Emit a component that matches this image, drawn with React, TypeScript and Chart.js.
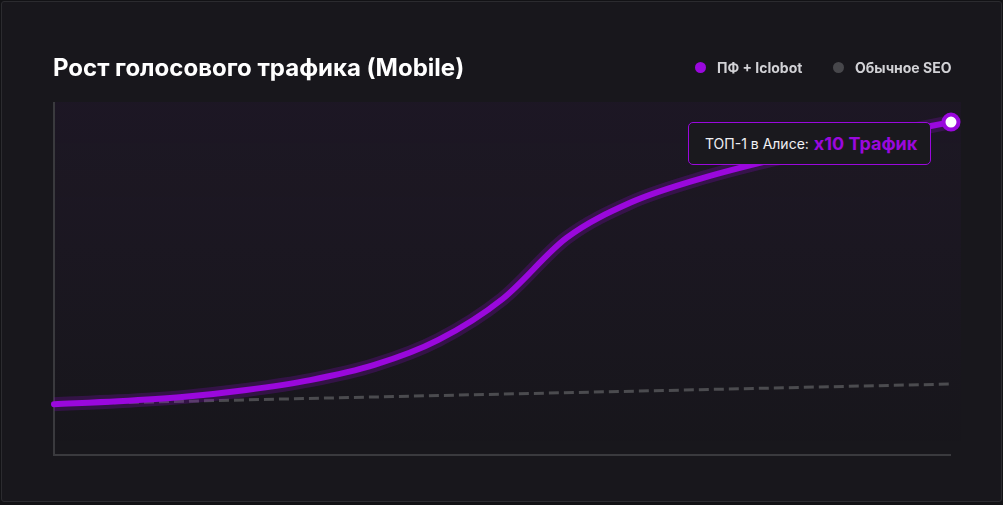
import React, { useEffect, useRef } from "react";
import { Chart, registerables } from "chart.js";

Chart.register(...registerables);

const steps = [1, 2, 3, 4, 5, 6, 7, 8, 9, 10, 11, 12, 13, 14, 15];
const iclobotValues = [14.4, 15.2, 16.4, 18.4, 21.2, 25.5, 32.6, 44.2, 61.5, 71.5, 77.8, 82.7, 86.8, 90.7, 94.3];
const seoSteps = [1, 15];
const seoValues = [14.4, 20.1];
const seriesNames = ["ПФ + Iclobot", "Обычное SEO"];
const titleText = "Рост голосового трафика (Mobile)";
const calloutLabel = "ТОП-1 в Алисе:";
const calloutValue = "x10 Трафик";

const PURPLE = "#9a08dd";
const FONT = "Inter, 'Noto Sans', sans-serif";

const plotBgPlugin = {
  id: "plotBg",
  beforeDatasetsDraw(chart: any) {
    const { ctx, chartArea } = chart;
    const { left, top, right, bottom } = chartArea;
    ctx.save();
    const g = ctx.createLinearGradient(0, top, 0, bottom);
    g.addColorStop(0, "rgba(130, 30, 200, 0.05)");
    g.addColorStop(1, "rgba(130, 30, 200, 0.0)");
    ctx.fillStyle = g;
    ctx.fillRect(left, top, right - left + 10, bottom - top);
    ctx.strokeStyle = "#3a3a3e";
    ctx.lineWidth = 2;
    ctx.beginPath();
    ctx.moveTo(left, top);
    ctx.lineTo(left, bottom);
    ctx.lineTo(right, bottom);
    ctx.stroke();
    ctx.restore();
  },
};

export default function App() {
  const canvasRef = useRef<HTMLCanvasElement | null>(null);

  useEffect(() => {
    document.body.style.margin = "0";
    document.body.style.background = "#121215";
    const canvas = canvasRef.current;
    if (!canvas) return;
    const n = iclobotValues.length;
    const mainData = steps.map((x, i) => ({ x, y: iclobotValues[i] }));
    const seoData = seoSteps.map((x, i) => ({ x, y: seoValues[i] }));
    const chart = new Chart(canvas, {
      type: "line",
      data: {
        datasets: [
          {
            label: seriesNames[0],
            data: mainData,
            borderColor: PURPLE,
            borderWidth: 6,
            cubicInterpolationMode: "monotone",
            fill: false,
            clip: false,
            pointRadius: iclobotValues.map((_, i) => (i === n - 1 ? 7.5 : 0)),
            pointBackgroundColor: "#ffffff",
            pointBorderColor: PURPLE,
            pointBorderWidth: 4,
            borderCapStyle: "round",
          } as any,
          {
            label: "glow",
            data: mainData,
            borderColor: "rgba(150, 10, 220, 0.22)",
            borderWidth: 14,
            cubicInterpolationMode: "monotone",
            fill: false,
            clip: false,
            pointRadius: 0,
          } as any,
          {
            label: seriesNames[1],
            data: seoData,
            borderColor: "#4b4b4f",
            borderWidth: 3,
            borderDash: [10, 5],
            tension: 0,
            fill: false,
            pointRadius: 0,
          } as any,
        ],
      },
      options: {
        animation: false,
        responsive: false,
        maintainAspectRatio: false,
        layout: { padding: { left: 54, top: 102, right: 52, bottom: 50 } },
        plugins: {
          legend: { display: false },
          tooltip: { enabled: false },
          title: { display: false },
        },
        scales: {
          x: { type: "linear", display: false, min: 1, max: 15 },
          y: { display: false, min: 0, max: 100 },
        },
      },
      plugins: [plotBgPlugin],
    });
    return () => chart.destroy();
  }, []);

  return (
    <div
      style={{
        position: "relative",
        width: 1003,
        height: 505,
        fontFamily: FONT,
        background: "#121215",
        overflow: "hidden",
      }}
    >
      <div
        style={{
          position: "absolute",
          left: 1,
          top: 1,
          width: 1001,
          height: 501,
          boxSizing: "border-box",
          border: "1px solid #2b2b2f",
          borderRadius: 3,
          background: "#18171c",
        }}
      />
      <canvas
        ref={canvasRef}
        width={1003}
        height={505}
        style={{ position: "absolute", left: 0, top: 0, width: 1003, height: 505 }}
      />
      <div
        style={{
          position: "absolute",
          left: 53,
          top: 52,
          fontSize: 24,
          fontWeight: 700,
          color: "#ffffff",
          whiteSpace: "nowrap",
          lineHeight: "32px",
        }}
      >
        {titleText}
      </div>
      {[
        { x: 695, color: PURPLE, text: seriesNames[0] },
        { x: 833, color: "#47474b", text: seriesNames[1] },
      ].map((it, i) => (
        <div
          key={i}
          style={{
            position: "absolute",
            left: it.x,
            top: 58,
            display: "flex",
            alignItems: "center",
            whiteSpace: "nowrap",
            fontSize: 14,
            fontWeight: 700,
            color: "#d2d2d6",
            lineHeight: "19px",
          }}
        >
          <span
            style={{
              width: 11,
              height: 11,
              borderRadius: "50%",
              background: it.color,
              display: "inline-block",
              marginRight: 11,
            }}
          />
          {it.text}
        </div>
      ))}
      <div
        style={{
          position: "absolute",
          left: 688,
          top: 122,
          width: 243,
          height: 43,
          boxSizing: "border-box",
          border: `1px solid ${PURPLE}`,
          borderRadius: 5,
          background: "#1a191e",
          display: "flex",
          alignItems: "center",
          paddingLeft: 16,
          whiteSpace: "nowrap",
        }}
      >
        <span style={{ fontSize: 14, color: "#f0f0f4", marginRight: 5 }}>{calloutLabel}</span>
        <span style={{ fontSize: 18, fontWeight: 700, color: PURPLE }}>{calloutValue}</span>
      </div>
    </div>
  );
}
